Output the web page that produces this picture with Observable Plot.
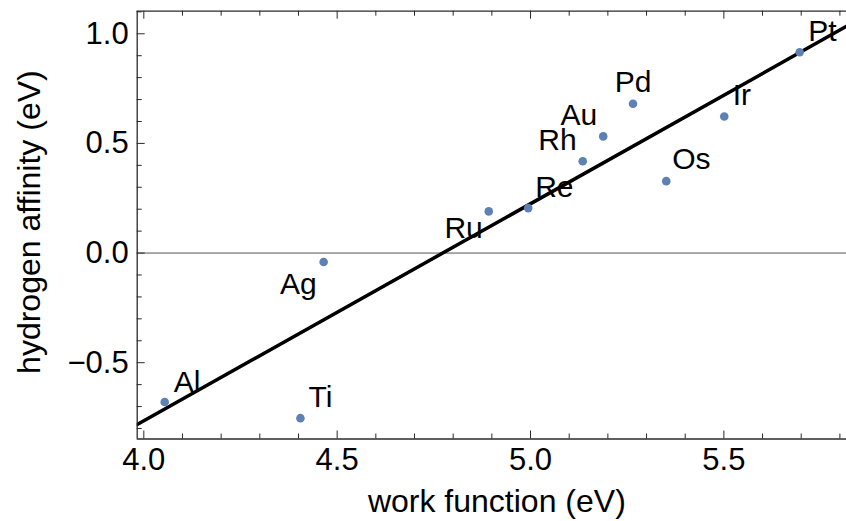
<!DOCTYPE html>
<html>
<head>
<meta charset="utf-8">
<script src="https://cdn.jsdelivr.net/npm/d3@7"></script>
<script src="https://cdn.jsdelivr.net/npm/@observablehq/plot@0.6"></script>
<style>
  html, body { margin: 0; padding: 0; background: #fff; }
  #chart { width: 846px; height: 521px; overflow: hidden; }
</style>
</head>
<body>
<div id="chart"></div>
<script>
// ---- data ----
const elements = ["Al", "Ti", "Ag", "Ru", "Re", "Rh", "Au", "Pd", "Os", "Ir", "Pt"];
const workFunction = [4.054, 4.405, 4.465, 4.892, 4.994, 5.135, 5.188, 5.265, 5.351, 5.501, 5.696];
const hydrogenAffinity = [-0.679, -0.753, -0.041, 0.190, 0.205, 0.419, 0.532, 0.681, 0.328, 0.623, 0.916];
const xTicks = [4.0, 4.5, 5.0, 5.5];
const xTickLabels = ["4.0", "4.5", "5.0", "5.5"];
const yTicks = [-0.5, 0.0, 0.5, 1.0];
const yTickLabels = ["\u22120.5", "0.0", "0.5", "1.0"];
const xLabel = "work function (eV)";
const yLabel = "hydrogen affinity (eV)";

// ---- chart ----
const points = elements.map((e, i) => ({el: e, x: workFunction[i], y: hydrogenAffinity[i]}));

const xDomain = [3.9829, 5.8171];
const yDomain = [-0.848, 1.103];

// least-squares fit of the data
const mx = d3.mean(workFunction), my = d3.mean(hydrogenAffinity);
const sxy = d3.sum(workFunction, (x, i) => (x - mx) * (hydrogenAffinity[i] - my));
const sxx = d3.sum(workFunction, x => (x - mx) ** 2);
const slope = sxy / sxx, intercept = my - slope * mx;
const fit = xDomain.map(x => ({x, y: slope * x + intercept}));

const xMinor = d3.range(40, 59).map(v => v / 10).filter(v => !xTicks.some(t => Math.abs(t - v) < 1e-9));
const yMinor = d3.range(-8, 12).map(v => v / 10).filter(v => !yTicks.some(t => Math.abs(t - v) < 1e-9));

const placement = {
  Al: {a: "start", dx: 9, dy: -10},
  Ti: {a: "start", dx: 8, dy: -11},
  Ag: {a: "end", dx: -7, dy: 32},
  Ru: {a: "end", dx: -6, dy: 27},
  Re: {a: "start", dx: 7, dy: -11},
  Rh: {a: "end", dx: -6, dy: -11},
  Au: {a: "end", dx: -6, dy: -11},
  Pd: {a: "middle", dx: 0, dy: -12},
  Os: {a: "start", dx: 6, dy: -12},
  Ir: {a: "start", dx: 8.5, dy: -11},
  Pt: {a: "start", dx: 8.5, dy: -11}
};

const frameColor = "#2a2a2a";
const labelMarks = points.map(p => {
  const pl = placement[p.el];
  return Plot.text([p], {x: "x", y: "y", text: "el", textAnchor: pl.a, lineAnchor: "bottom",
    dx: pl.dx, dy: pl.dy, fontSize: 30, fill: "#000"});
});

const chart = Plot.plot({
  width: 846,
  height: 521,
  marginLeft: 136.7,
  marginRight: 0,
  marginTop: 10.7,
  marginBottom: 82.5,
  style: {fontFamily: "'Liberation Sans', Arial, Helvetica, sans-serif", fontSize: "31px", color: "#000", background: "#fff", overflow: "visible"},
  x: {domain: xDomain, label: null},
  y: {domain: yDomain, label: null},
  marks: [
    Plot.ruleY([0], {stroke: "#555", strokeWidth: 1}),
    Plot.line(fit, {x: "x", y: "y", stroke: "#000", strokeWidth: 3.5, clip: true}),
    Plot.dot(points, {x: "x", y: "y", r: 4.3, fill: "#5E81B5", stroke: null}),
    ...labelMarks,
    // frame: left, top, bottom (right edge falls outside the picture)
    Plot.ruleX([xDomain[0]], {stroke: frameColor, strokeWidth: 1.3}),
    Plot.ruleY([yDomain[0], yDomain[1]], {stroke: frameColor, strokeWidth: 1.3}),
    // bottom ticks (inward)
    Plot.ruleX(xTicks, {x: d => d, y1: yDomain[0], y2: yDomain[0], insetTop: -8, stroke: frameColor}),
    Plot.ruleX(xMinor, {x: d => d, y1: yDomain[0], y2: yDomain[0], insetTop: -5, stroke: frameColor}),
    // top ticks (inward)
    Plot.ruleX(xTicks, {x: d => d, y1: yDomain[1], y2: yDomain[1], insetBottom: -8, stroke: frameColor}),
    Plot.ruleX(xMinor, {x: d => d, y1: yDomain[1], y2: yDomain[1], insetBottom: -5, stroke: frameColor}),
    // left ticks (inward)
    Plot.ruleY(yTicks, {y: d => d, x1: xDomain[0], x2: xDomain[0], insetRight: -8, stroke: frameColor}),
    Plot.ruleY(yMinor, {y: d => d, x1: xDomain[0], x2: xDomain[0], insetRight: -5, stroke: frameColor}),
    // tick labels
    Plot.axisX({ticks: xTicks, tickFormat: d => xTickLabels[xTicks.indexOf(d)], tickSize: 0, tickPadding: 9, label: null, fill: "#000"}),
    Plot.axisY({ticks: yTicks, tickFormat: d => yTickLabels[yTicks.indexOf(d)], tickSize: 0, tickPadding: 8.5, label: null, fill: "#000"}),
    // axis titles
    Plot.text([xLabel], {text: d => d, frameAnchor: "bottom", textAnchor: "middle", lineAnchor: "bottom", dy: 73, dx: 5, fontSize: 32, fill: "#000"}),
    Plot.text([yLabel], {text: d => d, frameAnchor: "left", textAnchor: "middle", rotate: -90, lineAnchor: "bottom", dx: -97, dy: -3, fontSize: 32, fill: "#000"})
  ]
});
document.getElementById("chart").appendChild(chart);
</script>
</body>
</html>
